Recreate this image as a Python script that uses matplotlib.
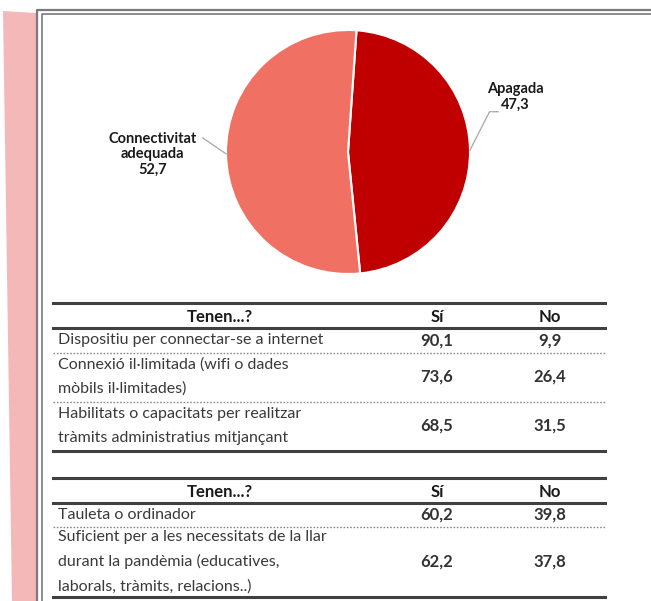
import matplotlib
matplotlib.use("Agg")
import matplotlib.pyplot as plt
import numpy as np
from matplotlib.patches import Polygon

plt.rcParams['font.family'] = ['Lato', 'DejaVu Sans']

# pie data
pie_labels = ['Apagada', 'Connectivitat\nadequada']
pie_values = [47.3, 52.7]
pie_colors = ['#c00000', '#f07163']

# table 1
t1_rows = ['Dispositiu per connectar-se a internet',
           'Connexió il·limitada (wifi o dades\nmòbils il·limitades)',
           'Habilitats o capacitats per realitzar\ntràmits administratius mitjançant']
t1_si = [90.1, 73.6, 68.5]
t1_no = [9.9, 26.4, 31.5]

# table 2
t2_rows = ['Tauleta o ordinador',
           'Suficient per a les necessitats de la llar\ndurant la pandèmia (educatives,\nlaborals, tràmits, relacions..)']
t2_si = [60.2, 62.2]
t2_no = [39.8, 37.8]

header = ['Tenen...?', 'Sí', 'No']


def fmt(v):
    return ('%.1f' % v).replace('.', ',')


W, H = 651, 601
fig = plt.figure(figsize=(W / 100, H / 100), dpi=100)
bg = fig.add_axes([0, 0, 1, 1])
bg.set_xlim(0, W)
bg.set_ylim(H, 0)
bg.axis('off')

# pink strip + double frame
bg.add_patch(Polygon([(3, 11), (36, 13), (36, H), (12, H)], closed=True,
                     facecolor='#f5b8b8', edgecolor='none'))
bg.plot([37, 37, W], [H, 10, 10], color='#7a7a7a', lw=1.6)
bg.plot([41.5, 41.5, W], [H, 14, 14], color='#7a7a7a', lw=1.2)

# pie
cx, cy, r = 348, 152, 122
pax = fig.add_axes([(cx - r) / W, 1 - (cy + r) / H, 2 * r / W, 2 * r / H])
wedges, _ = pax.pie(pie_values, colors=pie_colors, startangle=86, counterclock=False,
                    wedgeprops=dict(edgecolor='white', linewidth=1.5))
pax.set_xlim(-1, 1)
pax.set_ylim(-1, 1)
pax.set_aspect('equal')
pax.axis('off')

lab_cfg = [((1.37, 0.45), (1.16, 0.33), (1.23, 0.33)),
           ((-1.60, -0.02), (-1.19, 0.115), None)]
for w, lab, val, (tpos, elbow, end) in zip(wedges, pie_labels, pie_values, lab_cfg):
    mid = np.deg2rad((w.theta1 + w.theta2) / 2)
    ex, ey = np.cos(mid), np.sin(mid)
    xs, ys = [ex, elbow[0]], [ey, elbow[1]]
    if end is not None:
        xs.append(end[0])
        ys.append(end[1])
    pax.plot(xs, ys, color='#a6a6a6', lw=0.9, clip_on=False)
    pax.text(tpos[0], tpos[1], lab + '\n' + fmt(val), ha='center', va='center',
             fontsize=10.5, fontweight='bold', color='#1a1a1a', linespacing=1.15,
             clip_on=False)


def draw_table(top, rows, si, no, line_h):
    x0, x1 = 53, 605
    xs, xn = 437, 550
    tc = '#3a3a3a'
    bg.plot([x0, x1], [top, top], color='#404040', lw=2.2)
    for x, t in zip([220, xs, xn], header):
        bg.text(x, top + 14, t, ha='center', va='center', fontsize=12,
                fontweight='bold', color='#1a1a1a')
    y = top + 25
    bg.plot([x0, x1], [y, y], color='#404040', lw=2.2)
    for i, (lab, s, n) in enumerate(zip(rows, si, no)):
        nl = lab.count('\n') + 1
        h = nl * line_h
        ymid = y + h / 2
        bg.text(58, ymid, lab, ha='left', va='center', fontsize=11.5, color=tc,
                linespacing=1.85)
        bg.text(xs, ymid, fmt(s), ha='center', va='center', fontsize=12,
                fontweight='bold', color='#333333')
        bg.text(xn, ymid, fmt(n), ha='center', va='center', fontsize=12,
                fontweight='bold', color='#333333')
        y += h
        if i < len(rows) - 1:
            bg.plot([x0, x1], [y, y], color='#8a8a8a', lw=1.0, ls=(0, (1.2, 1.2)))
        else:
            bg.plot([x0, x1], [y, y], color='#404040', lw=2.2)


draw_table(303, t1_rows, t1_si, t1_no, 24.5)
draw_table(478, t2_rows, t2_si, t2_no, 23.5)

fig.savefig('out.png', dpi=100)
